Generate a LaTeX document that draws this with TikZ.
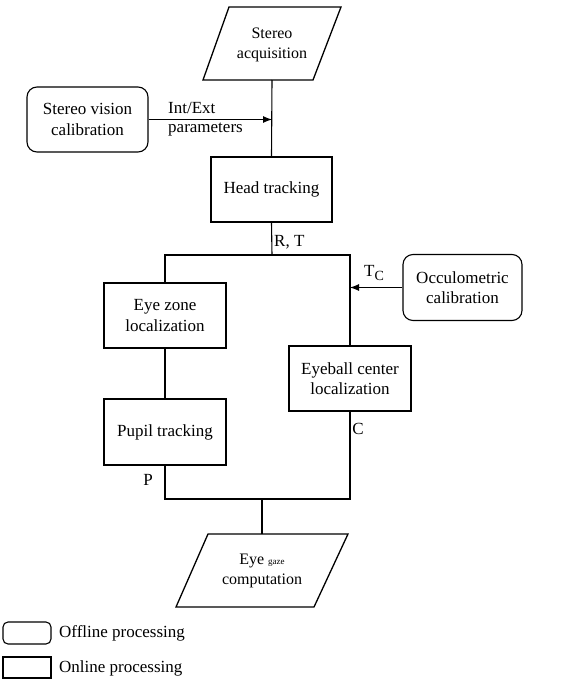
\documentclass[tikz,border=0pt]{standalone}
\usepackage{fontspec}
\setmainfont{Liberation Serif}
\usetikzlibrary{arrows.meta}
\begin{document}
\begin{tikzpicture}[x=1pt,y=-1pt,
  txt/.style={inner sep=0pt, align=center, font=\fontsize{17}{20.5}\selectfont},
  smalltxt/.style={inner sep=0pt, align=center, font=\fontsize{16}{20}\selectfont},
  box/.style={txt, draw, line width=1.1pt, minimum width=121pt, minimum height=65pt},
  offbox/.style={box, rounded corners=10pt},
  para/.style={draw, line width=1.3pt, line join=miter},
  lbl/.style={txt, anchor=west},
  conn/.style={line width=1.1pt},
  arr/.style={conn, -{Latex[length=9pt,width=7pt]}}]
\useasboundingbox[fill=white] (0,0) rectangle (569,680);

% Stereo acquisition (parallelogram)
\draw[para] (229,7) -- (341,7) -- (313,80) -- (203,80) -- cycle;
\node[smalltxt] (acq) at (272,45) {Stereo\\acquisition};
\coordinate (acqb) at (272,80);

% Stereo vision calibration
\node[offbox] (svc) at (87.5,119.5) {Stereo vision\\calibration};

% Head tracking
\node[box] (head) at (271.5,189.5) {Head tracking};

\draw[conn] (acqb) -- (head.north);
\draw[arr] (svc.east) -- (svc.east -| acqb);
\node[lbl] (intext) at (168,108) {Int/Ext};
\node[lbl] (params) at (168,130) {parameters};

% Split
\coordinate (j1) at (272,255);
\node[box, minimum width=122pt] (eyezone) at (165,315.5) {Eye zone\\localization};
\node[box, minimum width=122pt, minimum height=66pt] (pupil) at (165,432) {Pupil tracking};
\node[box, minimum width=122pt] (eyeball) at (350,378.5) {Eyeball center\\localization};
\node[offbox, minimum width=119pt, minimum height=66pt] (occ) at (462.5,287.5) {Occulometric\\calibration};

\draw[conn] (head.south) -- (j1);
\draw[conn] (eyezone.north) -- (eyezone.north |- j1) -- (eyeball.north |- j1) -- (eyeball.north);
\draw[conn] (eyezone.south) -- (pupil.north);
\draw[arr] (occ.west) -- (occ.west -| eyeball.north);

\node[lbl] (rt) at (274,242) {R, T};
\node[txt] (tc) at (374,273) {T\raisebox{-4pt}{\fontsize{14}{14}\selectfont C}};
\node[txt] (clbl) at (358,429) {C};
\node[txt] (plbl) at (148,480) {P};

% Merge
\coordinate (j2) at (262,499);
\draw[conn] (pupil.south) -- (pupil.south |- j2) -- (eyeball.south |- j2) -- (eyeball.south);

% Eye gaze computation (parallelogram)
\draw[para] (208,534) -- (348,534) -- (314,607) -- (176,607) -- cycle;
\coordinate (gazet) at (262,534);
\draw[conn] (j2) -- (gazet);
\node[smalltxt] (gaze) at (262,571) {Eye {\fontsize{9}{9}\selectfont gaze}\\computation};

% Legend
\node[draw, line width=1.1pt, rounded corners=5pt, minimum width=48pt, minimum height=22pt, inner sep=0pt] (legoff) at (27,633) {};
\node[lbl] (legofft) at (59,633) {Offline processing};
\node[draw, line width=1.1pt, minimum width=48pt, minimum height=21pt, inner sep=0pt] (legon) at (27,667.5) {};
\node[lbl] (legont) at (59,668) {Online processing};
\end{tikzpicture}
\end{document}
